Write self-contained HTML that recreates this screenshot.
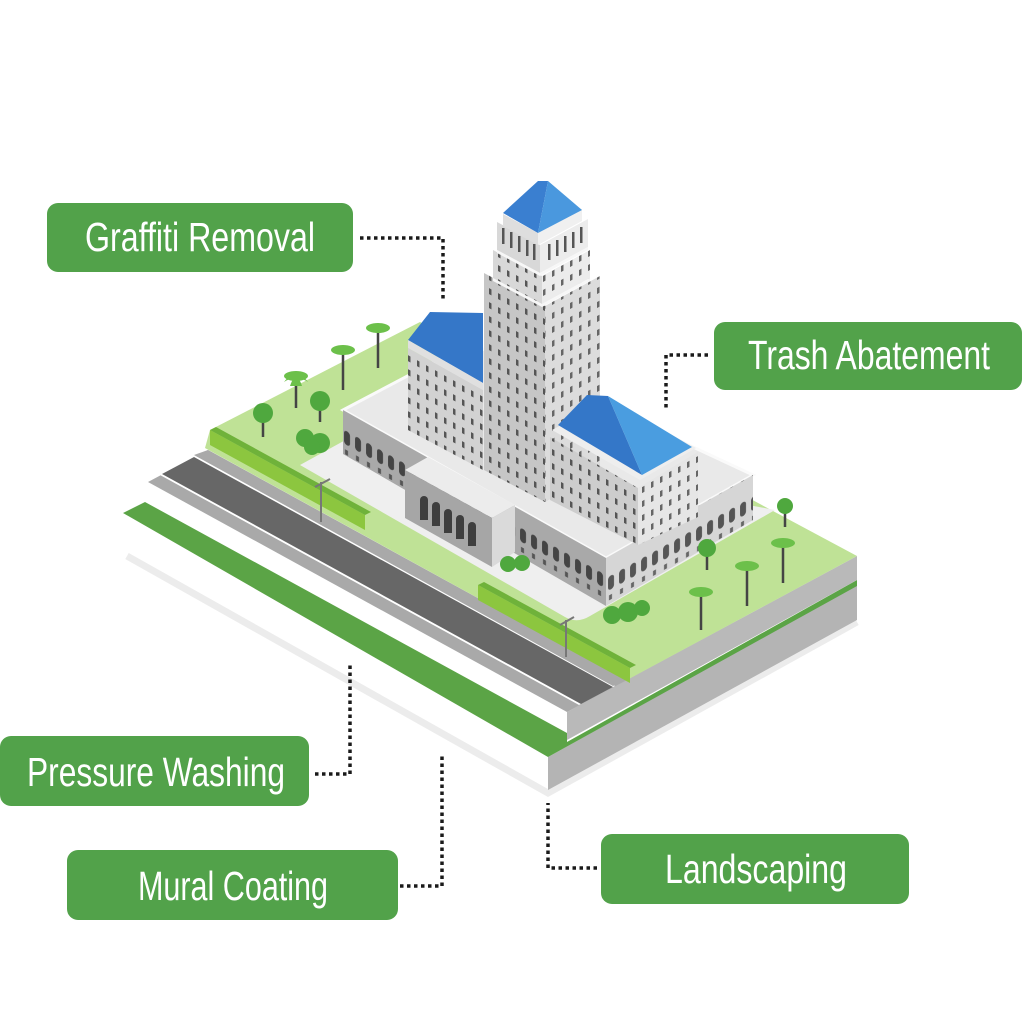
<!DOCTYPE html>
<html><head><meta charset="utf-8"><style>
html,body{margin:0;padding:0;background:#fff;}
svg{display:block}
.lbl{font-family:"Liberation Sans Narrow","Liberation Sans",sans-serif;font-size:41px;fill:#fff;}
</style></head><body>
<svg width="1024" height="1024" viewBox="0 0 1024 1024" xmlns="http://www.w3.org/2000/svg">
<defs>
<pattern id="wl" width="9" height="14" patternUnits="userSpaceOnUse" patternTransform="skewY(29)"><rect x="3" y="3" width="2.5" height="6" fill="#555"/></pattern>
<pattern id="wr" width="9" height="14" patternUnits="userSpaceOnUse" patternTransform="skewY(-29)"><rect x="3" y="3" width="2.5" height="6" fill="#666"/></pattern>
<pattern id="al" width="11" height="45" patternUnits="userSpaceOnUse" patternTransform="skewY(29)"><rect x="3" y="14" width="6" height="14" rx="3" fill="#444"/><rect x="4" y="33" width="3" height="5" fill="#555"/></pattern>
<pattern id="ar" width="11" height="45" patternUnits="userSpaceOnUse" patternTransform="skewY(-29)"><rect x="3" y="14" width="6" height="14" rx="3" fill="#555"/><rect x="4" y="33" width="3" height="5" fill="#666"/></pattern>
</defs>

<polyline points="127,556 548,793 857,622" fill="none" stroke="#ececec" stroke-width="7"/>
<polygon points="548,757 857,585 857,620 548,790" fill="#b4b4b4"/>
<polygon points="123,513 145,502 567,733 567,742 857,580 857,586 548,757" fill="#5ba446"/>
<polygon points="567,712 857,556 857,580 567,740" fill="#b9b9b9"/>
<polygon points="148,482 567,712 627,680 208,450" fill="#a9a9a9"/>
<polygon points="160,475 579,705 615,686 196,456" fill="#fff"/>
<polygon points="162,474 581,704 613,687 194,457" fill="#676767"/>
<polygon points="194,455 613,686 627,680 208,450" fill="#a9a9a9"/>
<polygon points="205,448 210,430 420,322 857,556 627,680" fill="#bfe296"/>
<path d="M300,465 L360,432 L775,510 L590,616 Q577,624 565,617 Z" fill="#efefef"/>
<polygon points="210,430 365,515 365,530 210,445" fill="#8cc63f"/>
<polygon points="210,430 216,427 371,512 365,515" fill="#6fb23a"/>
<polygon points="478,585 630,668 630,683 478,600" fill="#8cc63f"/>
<polygon points="478,585 484,582 636,665 630,668" fill="#6fb23a"/>

<!-- base block -->
<polygon points="343,410 470,343 753,475 606,558" fill="#e9e9e9" stroke="#fafafa" stroke-width="3"/>
<polygon points="343,410 606,558 606,606 343,454" fill="#a9a9a9"/>
<polygon points="343,410 606,558 606,606 343,454" fill="url(#al)"/>
<polygon points="606,558 753,475 753,520 606,606" fill="#d6d6d6"/>
<polygon points="606,558 753,475 753,520 606,606" fill="url(#ar)"/>
<!-- left wing -->
<polygon points="408,348 483,390 483,470 408,430" fill="#d2d2d2"/>
<polygon points="408,348 483,390 483,470 408,430" fill="url(#wl)"/>
<polygon points="408,340 430,312 483,313 483,383" fill="#3577c8"/>
<polygon points="408,340 483,383 483,390 408,348" fill="#e0e0e0"/>
<!-- tower shaft -->
<polygon points="484,273 545,306 545,502 484,470" fill="#c6c6c6"/>
<polygon points="484,273 545,306 545,502 484,470" fill="url(#wl)"/>
<polygon points="545,306 600,276 600,472 545,502" fill="#dcdcdc"/>
<polygon points="545,306 600,276 600,472 545,502" fill="url(#wr)"/>
<!-- tier C -->
<polygon points="493,250 542,276 542,304 493,278" fill="#d8d8d8"/>
<polygon points="542,276 590,250 590,278 542,304" fill="#ececec"/>
<polygon points="493,250 542,276 542,304 493,278" fill="url(#wl)"/>
<polygon points="542,276 590,250 590,278 542,304" fill="url(#wr)"/>
<polygon points="493,278 542,304 590,278 590,281 542,307 493,281" fill="#f7f7f7"/>
<!-- tier B -->
<polygon points="497,222 540,245 540,273 497,250" fill="#d8d8d8"/>
<polygon points="540,245 588,219 588,247 540,273" fill="#ececec"/>
<polygon points="497,250 540,273 588,247 588,250 540,276 497,253" fill="#f7f7f7"/>
<g fill="#555"><rect x="502" y="228" width="2.5" height="16"/><rect x="510" y="232" width="2.5" height="16"/><rect x="518" y="236" width="2.5" height="16"/><rect x="526" y="240" width="2.5" height="16"/><rect x="533" y="244" width="2.5" height="16"/>
<rect x="548" y="244" width="2.5" height="16"/><rect x="556" y="240" width="2.5" height="16"/><rect x="564" y="236" width="2.5" height="16"/><rect x="572" y="232" width="2.5" height="16"/><rect x="580" y="227" width="2.5" height="16"/></g>
<!-- tier A -->
<polygon points="503,214 538,233 538,245 503,226" fill="#dedede"/>
<polygon points="538,233 582,209 582,221 538,245" fill="#f0f0f0"/>
<polygon points="503,213 538,181 548,181 538,233" fill="#3a7fd0"/>
<polygon points="548,181 582,210 538,233" fill="#4a98de"/>

<!-- right wing -->
<polygon points="550,437 638,488 638,545 550,500" fill="#cdcdcd"/>
<polygon points="550,437 638,488 638,545 550,500" fill="url(#wl)"/>
<polygon points="638,488 698,452 698,517 638,545" fill="#e6e6e6"/>
<polygon points="638,488 698,452 698,517 638,545" fill="url(#wr)"/>
<polygon points="552,430 640,480 696,448 608,400" fill="#eeeeee"/>
<polygon points="558,425 587,395 608,396 642,475" fill="#3477c8"/>
<polygon points="608,396 692,447 642,475" fill="#4a9de0"/>

<!-- entrance block -->
<polygon points="405,470 428,457 515,505 492,518" fill="#ececec"/>
<polygon points="405,470 492,518 492,567 405,518" fill="#a6a6a6"/>
<polygon points="492,518 515,505 515,552 492,567" fill="#dadada"/>
<g fill="#3e3e3e">
<path d="M420,500 a4,4 0 0 1 8,0 v20 h-8z"/><path d="M432,506 a4,4 0 0 1 8,0 v20 h-8z"/><path d="M444,513 a4,4 0 0 1 8,0 v20 h-8z"/><path d="M456,519 a4,4 0 0 1 8,0 v20 h-8z"/><path d="M468,526 a4,4 0 0 1 8,0 v20 h-8z"/>
</g>

<!-- trees -->
<g stroke="#444" stroke-width="2.5">
<line x1="296" y1="408" x2="296" y2="376"/><line x1="343" y1="390" x2="343" y2="350"/><line x1="378" y1="368" x2="378" y2="328"/>
<line x1="701" y1="630" x2="701" y2="592"/><line x1="747" y1="606" x2="747" y2="566"/><line x1="783" y1="583" x2="783" y2="543"/>
<line x1="263" y1="437" x2="263" y2="418"/><line x1="320" y1="422" x2="320" y2="405"/><line x1="707" y1="570" x2="707" y2="550"/><line x1="785" y1="527" x2="785" y2="510"/>
</g>
<g fill="#6cc04a">
<path d="M284,382 Q296,366 308,382 Q296,374 284,382Z M290,386 Q296,368 302,386Z"/>
<ellipse cx="296" cy="376" rx="12" ry="5"/><ellipse cx="343" cy="350" rx="12" ry="5"/><ellipse cx="378" cy="328" rx="12" ry="5"/>
<ellipse cx="701" cy="592" rx="12" ry="5"/><ellipse cx="747" cy="566" rx="12" ry="5"/><ellipse cx="783" cy="543" rx="12" ry="5"/>
</g>
<g fill="#4fa83e">
<circle cx="263" cy="413" r="10"/><circle cx="320" cy="401" r="10"/><circle cx="707" cy="548" r="9"/><circle cx="785" cy="506" r="8"/>
<circle cx="305" cy="438" r="9"/><circle cx="320" cy="443" r="10"/><circle cx="312" cy="447" r="8"/>
<circle cx="508" cy="564" r="8"/><circle cx="522" cy="563" r="8"/>
<circle cx="612" cy="615" r="9"/><circle cx="628" cy="612" r="10"/><circle cx="642" cy="608" r="8"/>
</g>
<g stroke="#777" stroke-width="2" fill="none">
<line x1="321" y1="522" x2="321" y2="482"/><line x1="315" y1="487" x2="330" y2="479"/>
<line x1="566" y1="657" x2="566" y2="620"/><line x1="560" y1="625" x2="574" y2="617"/>
</g>

<!-- labels -->
<g fill="#52a24a">
<rect x="47" y="203" width="306" height="69" rx="11"/>
<rect x="714" y="322" width="308" height="68" rx="11"/>
<rect x="0" y="736" width="309" height="70" rx="11"/>
<rect x="67" y="850" width="331" height="70" rx="11"/>
<rect x="601" y="834" width="308" height="70" rx="11"/>
</g>
<text class="lbl" x="85" y="251" textLength="230" lengthAdjust="spacingAndGlyphs">Graffiti Removal</text>
<text class="lbl" x="748" y="369" textLength="242" lengthAdjust="spacingAndGlyphs">Trash Abatement</text>
<text class="lbl" x="27" y="786" textLength="258" lengthAdjust="spacingAndGlyphs">Pressure Washing</text>
<text class="lbl" x="138" y="900" textLength="190" lengthAdjust="spacingAndGlyphs">Mural Coating</text>
<text class="lbl" x="665" y="883" textLength="182" lengthAdjust="spacingAndGlyphs">Landscaping</text>

<g fill="none" stroke="#1a1a1a" stroke-width="3.5" stroke-dasharray="3.5 3.5">
<polyline points="360,238 443,238 443,300"/>
<polyline points="708,355 666,355 666,408"/>
<polyline points="315,774 350,774 350,665"/>
<polyline points="400,886 442,886 442,756"/>
<polyline points="597,868 548,868 548,803"/>
</g>
</svg>
</body></html>
